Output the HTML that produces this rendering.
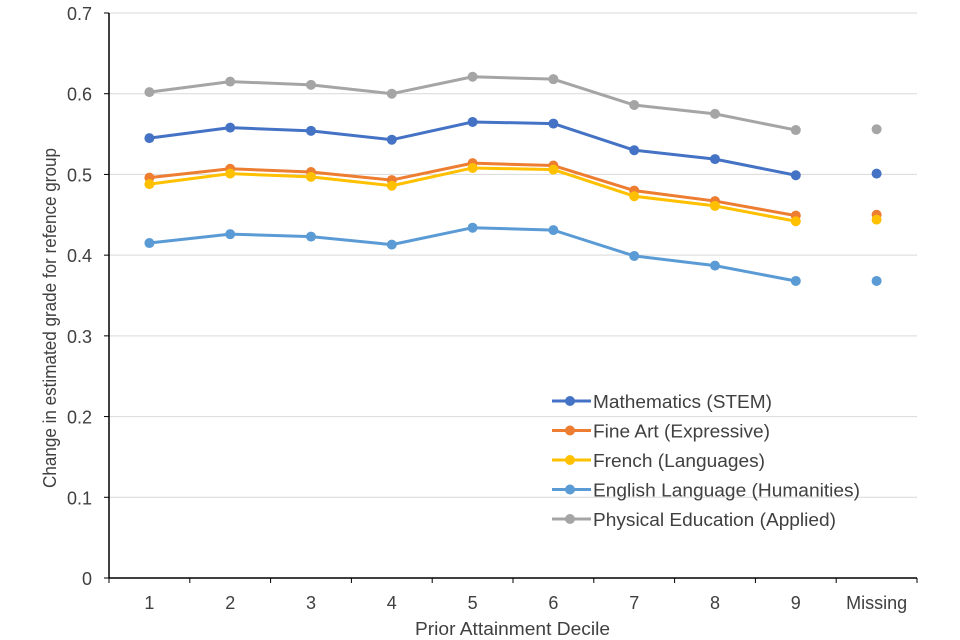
<!DOCTYPE html>
<html><head><meta charset="utf-8"><style>
body{margin:0;background:#fff;}
svg{display:block;font-family:"Liberation Sans",Arial,sans-serif;}
</style></head><body>
<svg id="chart" width="960" height="640" viewBox="0 0 960 640"></svg>
<script>
const categories=["1","2","3","4","5","6","7","8","9","Missing"];
const yTicks=[0,0.1,0.2,0.3,0.4,0.5,0.6,0.7];
const seriesNames=["Mathematics (STEM)","Fine Art (Expressive)","French (Languages)","English Language (Humanities)","Physical Education (Applied)"];
const mathValues=[0.545,0.558,0.554,0.543,0.565,0.563,0.530,0.519,0.499,0.501];
const artValues=[0.496,0.507,0.503,0.493,0.514,0.511,0.480,0.467,0.449,0.450];
const frenchValues=[0.488,0.501,0.497,0.486,0.508,0.506,0.473,0.461,0.442,0.444];
const englishValues=[0.415,0.426,0.423,0.413,0.434,0.431,0.399,0.387,0.368,0.368];
const peValues=[0.602,0.615,0.611,0.600,0.621,0.618,0.586,0.575,0.555,0.556];
const colors=["#4472C4","#ED7D31","#FFC000","#5B9BD5","#A5A5A5"];
const legendWidths=[179,177,172,267,243];
const NS="http://www.w3.org/2000/svg";
const svg=document.getElementById('chart');
const L=109,R=917,T=13,B=578,yMax=0.7;
const step=(R-L)/categories.length;
function x(i){return L+step*(i+0.5);}
function y(v){return B-(v/yMax)*(B-T);}
function mk(tag,attrs,parent){const e=document.createElementNS(NS,tag);for(const k in attrs)e.setAttribute(k,attrs[k]);(parent||svg).appendChild(e);return e;}
yTicks.forEach(t=>{
  if(t>0){const g=mk('line',{x1:L,x2:R,y1:y(t),y2:y(t),stroke:'#d9d9d9','stroke-width':1});
  
  }
  const tx=mk('text',{x:92,y:y(t)+7,'text-anchor':'end','font-size':18,fill:'#404040'});
  tx.textContent=(t===0?'0':t.toFixed(1));
  
  
  const tk=mk('line',{x1:L-5,x2:L,y1:y(t),y2:y(t),stroke:'#000'});
  
  
});
const ya=mk('line',{x1:L,x2:L,y1:T,y2:B,stroke:'#000','stroke-width':1.5});


const xa=mk('line',{x1:L,x2:R,y1:B,y2:B,stroke:'#000','stroke-width':1.5});


for(let i=0;i<=categories.length;i++){
  const tk=mk('line',{x1:L+step*i,x2:L+step*i,y1:B,y2:B+5,stroke:'#000'});
  
  
}
categories.forEach((c,i)=>{
  const t=mk('text',{x:x(i),y:609,'text-anchor':'middle','font-size':18,fill:'#404040'});
  t.textContent=c;
  
  
});
const xt=mk('text',{x:415,y:635,'font-size':18,fill:'#404040',textLength:195,lengthAdjust:'spacingAndGlyphs'});
xt.textContent='Prior Attainment Decile';


const yt=mk('text',{x:0,y:0,'font-size':18,fill:'#404040',transform:'translate(56,488) rotate(-90)',textLength:340,lengthAdjust:'spacingAndGlyphs'});
yt.textContent='Change in estimated grade for refence group';


const allSeries=[mathValues,artValues,frenchValues,englishValues,peValues];
const drawOrder=[4,0,1,2,3];
drawOrder.forEach(s=>{
  const vals=allSeries[s];
  const g=mk('g',{});
  
  
  const pts=vals.slice(0,9).map((v,i)=>x(i)+','+y(v)).join(' ');
  const pl=mk('polyline',{points:pts,fill:'none',stroke:colors[s],'stroke-width':3,'stroke-linejoin':'round'},g);
  
  
  vals.forEach((v,i)=>{
    const c=mk('circle',{cx:x(i),cy:y(v),r:5,fill:colors[s]},g);
    
    
  });
});
seriesNames.forEach((n,i)=>{
  const yy=401+i*29.5;
  const g=mk('g',{});
  
  
  mk('line',{x1:552,x2:591,y1:yy,y2:yy,stroke:colors[i],'stroke-width':3},g);
  mk('circle',{cx:570,cy:yy,r:5,fill:colors[i]},g);
  const t=mk('text',{x:593,y:yy+7,'font-size':18,fill:'#404040',textLength:legendWidths[i],lengthAdjust:'spacingAndGlyphs'},g);
  t.textContent=n;
});
</script>
</body></html>
